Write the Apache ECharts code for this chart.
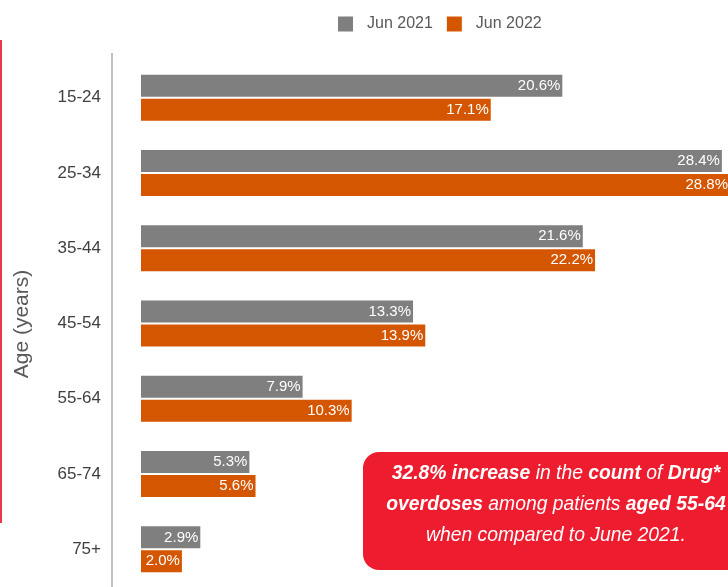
<!DOCTYPE html>
<html><head><meta charset="utf-8">
<script src="https://cdn.jsdelivr.net/npm/echarts@6/dist/echarts.min.js"></script>
<style>html,body{margin:0;padding:0;background:#fff}#c{width:728px;height:587px}</style>
</head><body><div id="c"></div>
<script>
const categories = ['15-24','25-34','35-44','45-54','55-64','65-74','75+'];
const jun2021 = [20.6, 28.4, 21.6, 13.3, 7.9, 5.3, 2.9];
const jun2022 = [17.1, 28.8, 22.2, 13.9, 10.3, 5.6, 2.0];
const seriesNames = ['Jun 2021', 'Jun 2022'];

const chart = echarts.init(document.getElementById('c'), null, {renderer:'canvas'});
const font = "'Liberation Sans', Arial, sans-serif";
const lbl = {show:true, position:'insideRight', distance:2, color:'#fff', fontSize:15, fontFamily:font,
  formatter: p => p.value.toFixed(1) + '%'};
chart.setOption({
  animation:false,
  textStyle:{fontFamily:font},
  legend:{left:333, top:11, itemWidth:15, itemHeight:15, itemGap:14, icon:'rect',
    textStyle:{fontSize:16, color:'#595959', fontFamily:font, padding:[0,0,0,9]}},
  grid:{left:141, top:60, right:0, height:527, containLabel:false},
  xAxis:{type:'value', min:0, max:28.7, show:false},
  yAxis:{type:'category', inverse:true, data:categories,
    axisLine:{show:false}, axisTick:{show:false},
    axisLabel:{margin:40, fontSize:17, color:'#404040', fontFamily:font, padding:[8,0,0,0]}},
  series:[
    {name:seriesNames[0], type:'bar', data:jun2021, barWidth:22, barGap:'9%', clip:false, itemStyle:{color:'#7f7f7f'}, label:lbl},
    {name:seriesNames[1], type:'bar', data:jun2022, barWidth:22, barGap:'9%', clip:false, itemStyle:{color:'#d55600'}, label:lbl}
  ],
  graphic:[
    {type:'line', shape:{x1:112, y1:53, x2:112, y2:587}, style:{stroke:'#bfbfbf', lineWidth:2}},
    {type:'line', shape:{x1:1, y1:40, x2:1, y2:523}, style:{stroke:'#e8394a', lineWidth:2}},
    {type:'text', x:22, y:324, rotation:Math.PI/2,
      style:{text:'Age (years)', fontSize:21, fill:'#595959', fontFamily:font, align:'center', verticalAlign:'middle'}},
    {type:'rect', shape:{x:363, y:452, width:390, height:118, r:16}, style:{fill:'#ed1c2e'}},
    {type:'text', x:556, y:504, scaleX:0.92, originX:0, originY:0,
      style:{align:'center', verticalAlign:'middle', lineHeight:31,
        text:'{b|32.8% increase}{n| in the }{b|count}{n| of }{b|Drug*}\n{b|overdoses}{n| among patients }{b|aged 55-64}\n{n|when compared to June 2021.}',
        rich:{
          b:{fontSize:21, fontWeight:'bold', fontStyle:'italic', fill:'#fff', fontFamily:font, lineHeight:31},
          n:{fontSize:21, fontStyle:'italic', fill:'#fff', fontFamily:font, lineHeight:31}
        }}}
  ]
});
</script></body></html>
